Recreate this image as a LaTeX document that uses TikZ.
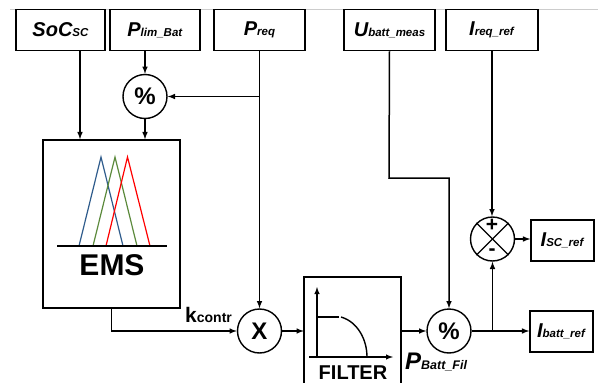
\documentclass[tikz,border=0pt]{standalone}
\usepackage{fontspec}
\setmainfont{Liberation Sans}
\definecolor{fuzzyblue}{RGB}{47,92,140}
\definecolor{fuzzygreen}{RGB}{92,138,60}
\newcommand{\lbl}[2]{\textbf{\textit{\fontsize{20}{20}\selectfont #1{\fontsize{11.5}{11.5}\selectfont #2}}}}
\tikzset{
    block/.style={draw,line width=1.5pt,minimum height=41pt,inner sep=0pt,text=black},
    sumnode/.style={draw,circle,line width=1.4pt,minimum size=44pt,inner sep=0pt},
    wire/.style={line width=1.4pt},
    flow/.style={line width=1.5pt,-latex},
}
\begin{document}
\begin{tikzpicture}[x=1pt,y=-1pt]
    \useasboundingbox (0,0) rectangle (598,383);
    \draw[black!20,line width=0.6pt] (10,9) -- (598,9);

    % inputs
    \node[block,minimum width=89pt] (soc) at (60.5,30) {\lbl{SoC}{SC}};
    \node[block,minimum width=90pt] (plim) at (155,30) {\lbl{P}{lim\_Bat}};
    \node[block,minimum width=91pt] (preq) at (259.5,30) {\lbl{P}{req}};
    \node[block,minimum width=91pt] (ubatt) at (389.5,30) {\lbl{U}{batt\_meas}};
    \node[block,minimum width=92pt] (ireq) at (492,30) {\lbl{I}{req\_ref}};

    % operators
    \node[sumnode] (pctlim) at (145,96.5) {\fontsize{24}{24}\selectfont\textbf{\%}};
    \node[sumnode] (mult) at (259.5,331) {\fontsize{24}{24}\selectfont\textbf{X}};
    \node[sumnode] (pctbatt) at (449,331) {\fontsize{24}{24}\selectfont\textbf{\%}};
    \node[sumnode] (sum) at (492.5,239) {};
    \draw[wire] (sum.north west) -- (sum.south east);
    \draw[wire] (sum.north east) -- (sum.south west);
    \node[inner sep=0pt] (plus) at (492,225) {\fontsize{21}{21}\selectfont\textbf{+}};
    \node[inner sep=0pt] (minus) at (492,252) {\fontsize{21}{21}\selectfont\textbf{-}};

    % EMS block
    \node[block,minimum width=137pt,minimum height=168pt] (ems) at (111.5,224) {};
    \draw[fuzzyblue,line width=1.2pt] (79,246) -- (101,157) -- (123,246);
    \draw[fuzzygreen,line width=1.2pt] (93,246) -- (115,157) -- (137,246);
    \draw[red,line width=1.2pt] (106,246) -- (127.5,157) -- (150,246);
    \draw[line width=1.2pt] (57,246) -- (167,246);
    \node (emstext) at (112,265) {\fontsize{30}{30}\selectfont\textbf{EMS}};

    % filter block, it runs off the bottom edge
    \node[minimum width=97pt,minimum height=106pt,inner sep=0pt] (filter) at (352.5,330) {};
    \draw[line width=1.5pt] (filter.south west) -- (filter.north west) -- (filter.north east) -- (filter.south east);
    \draw[wire,-latex] (317,358) -- (317,287);
    \draw[wire,-latex] (309,357) -- (393,357);
    \draw[wire] (317,317) -- (339,317);
    \draw[wire] (341,317) .. controls (358,322) and (367,340) .. (367,357);
    \node (filtertext) at (353,372.5) {\fontsize{20}{20}\selectfont\textbf{FILTER}};

    % outputs
    \node[block,minimum width=63pt] (isc) at (562.5,240.5) {\lbl{I}{SC\_ref}};
    \node[block,minimum width=63pt] (ibatt) at (561.5,331.5) {\lbl{I}{batt\_ref}};

    % labels
    \node[anchor=base west,inner sep=0pt] (kcontr) at (185,322) {\fontsize{21}{21}\selectfont\textbf{k}\fontsize{14}{14}\selectfont\textbf{contr}};
    \node[anchor=base west,inner sep=0pt] (pfil) at (405,369) {\textbf{\textit{\fontsize{24}{24}\selectfont P\fontsize{12.5}{12.5}\selectfont Batt\_Fil}}};

    % connectors
    \draw[flow] ([xshift=19.5pt]soc.south) -- ([xshift=19.5pt]soc.south |- ems.north);
    \draw[flow] (plim.south -| pctlim.north) -- (pctlim.north);
    \draw[flow] (pctlim.south) -- (pctlim |- ems.north);
    \draw[flow] (preq.south) -- (mult.north);
    \draw[flow] (preq |- pctlim) -- (pctlim.east);
    \draw[flow] (ems.south) |- (mult.west);
    \draw[flow] (mult.east) -- (filter.west |- mult);
    \draw[flow] (filter.east |- pctbatt) -- (pctbatt.west);
    \draw[flow] (ubatt.south) -- (389,178) -| (pctbatt.north);
    \draw[flow] (ireq.south) -- (ireq.south |- sum.north);
    \draw[flow] (pctbatt.east) -- (ibatt.west |- pctbatt);
    \draw[flow] (pctbatt.east -| sum.south) -- (sum.south);
    \draw[flow] (sum.east) -- (isc.west |- sum);
\end{tikzpicture}
\end{document}
